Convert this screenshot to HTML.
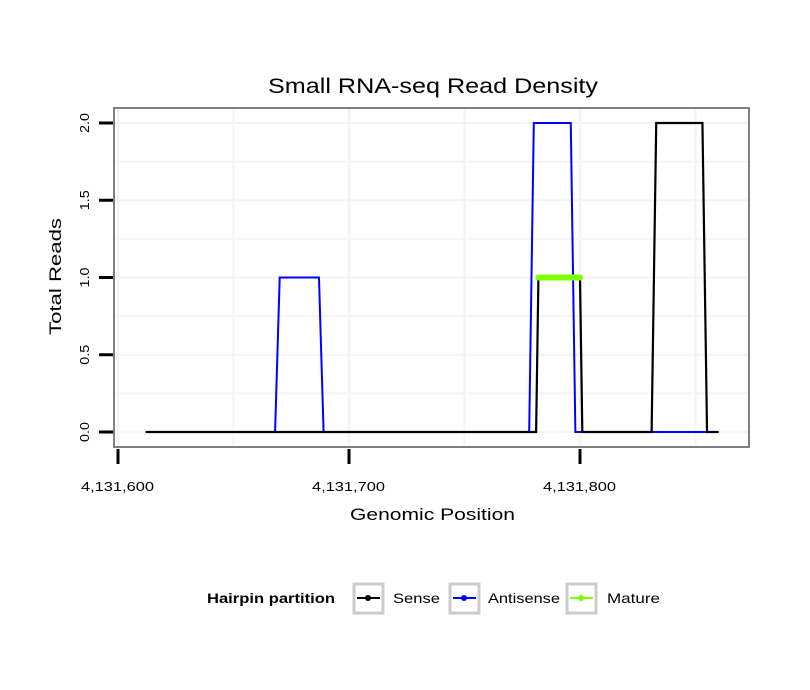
<!DOCTYPE html>
<html><head><meta charset="utf-8"><style>
body{margin:0;background:#fff;}
svg{display:block;font-family:"Liberation Sans",sans-serif;}
</style></head><body>
<svg id="chart" width="810" height="690">
<text x="268" y="93" font-size="21" textLength="330" lengthAdjust="spacingAndGlyphs">Small RNA-seq Read Density</text>
<rect x="114" y="108" width="635" height="339" fill="#fff" stroke="#808080" stroke-width="2"/>
<g id="grid"></g><g id="series"></g><g id="axes"></g>
<text x="350" y="520" font-size="17" textLength="165" lengthAdjust="spacingAndGlyphs">Genomic Position</text>
<text transform="translate(61,335) rotate(-90)" font-size="17" textLength="117" lengthAdjust="spacingAndGlyphs">Total Reads</text>
<g>
<text x="207" y="603" font-size="14" font-weight="bold" textLength="128" lengthAdjust="spacingAndGlyphs">Hairpin partition</text>
<g><rect x="354" y="584" width="29" height="29" fill="#fff" stroke="#ccc" stroke-width="3"/><line x1="357" y1="598" x2="380" y2="598" stroke="#000" stroke-width="2"/><circle cx="368" cy="598" r="3"/><text x="393" y="603" font-size="14" textLength="47" lengthAdjust="spacingAndGlyphs">Sense</text></g>
<g><rect x="450" y="584" width="29" height="29" fill="#fff" stroke="#ccc" stroke-width="3"/><line x1="453" y1="598" x2="476" y2="598" stroke="#00f" stroke-width="2"/><circle cx="464" cy="598" r="3" fill="#00f"/><text x="488" y="603" font-size="14" textLength="72" lengthAdjust="spacingAndGlyphs">Antisense</text></g>
<g><rect x="567" y="584" width="29" height="29" fill="#fff" stroke="#ccc" stroke-width="3"/><line x1="570" y1="598" x2="593" y2="598" stroke="#7fff00" stroke-width="2"/><circle cx="581" cy="598" r="3" fill="#7fff00"/><text x="607" y="603" font-size="14" textLength="53" lengthAdjust="spacingAndGlyphs">Mature</text></g>
</g>
</svg>
<script>
const xTicks=[4131600,4131700,4131800];
const xMinor=[4131650,4131750,4131850];
const yTicks=[0,0.5,1,1.5,2];
const yMinor=[0.25,0.75,1.25,1.75];
const senseX=[4131612,4131781,4131782,4131800,4131801,4131831,4131833,4131853,4131855,4131860];
const senseY=[0,0,1,1,0,0,2,2,0,0];
const antiX=[4131612,4131668,4131670,4131687,4131689,4131778,4131780,4131796,4131798,4131860];
const antiY=[0,0,1,1,0,0,2,2,0,0];
const matureX=[4131782,4131800];
const matureY=[1,1];
const sx=v=>118+(v-4131600)*2.31;
const sy=v=>432-v*154.5;
const NS='http://www.w3.org/2000/svg';
function mk(t,a,p){const e=document.createElementNS(NS,t);for(const k in a)e.setAttribute(k,a[k]);p.appendChild(e);return e;}
const grid=document.getElementById('grid'),ser=document.getElementById('series'),ax=document.getElementById('axes');
xTicks.concat(xMinor).forEach(v=>{const l=mk('line',{x1:sx(v),x2:sx(v),y1:109,y2:446,stroke:'#f4f4f4','stroke-width':xMinor.includes(v)?2:3},grid);

});
yTicks.concat(yMinor).forEach(v=>{const l=mk('line',{x1:115,x2:748,y1:sy(v),y2:sy(v),stroke:'#f4f4f4','stroke-width':2},grid);

});
function path(xs,ys,c,w,name){const d=xs.map((x,i)=>(i?'L':'M')+sx(x)+','+sy(ys[i])).join('');
const p=mk('path',{d:d,fill:'none',stroke:c,'stroke-width':w,'stroke-linecap':w>3?'round':'butt'},ser);

}
path(antiX,antiY,'#0000ff',2,'antisense-line');
path(senseX,senseY,'#000',2.2,'sense-line');
path(matureX,matureY,'#7fff00',6,'mature-line');
xTicks.forEach(v=>{const l=mk('line',{x1:sx(v),x2:sx(v),y1:449,y2:464,stroke:'#000','stroke-width':3},ax);


const t=mk('text',{x:sx(v)-37,y:491,'font-size':13,textLength:73,lengthAdjust:'spacingAndGlyphs'},ax);t.textContent=v.toLocaleString('en-US');

});
yTicks.forEach(v=>{const l=mk('line',{x1:99,x2:113,y1:sy(v),y2:sy(v),stroke:'#000','stroke-width':3},ax);


const t=mk('text',{transform:`translate(89,${sy(v)+10}) rotate(-90)`,'font-size':13,textLength:20,lengthAdjust:'spacingAndGlyphs'},ax);t.textContent=v.toFixed(1);

});
</script>
</body></html>
